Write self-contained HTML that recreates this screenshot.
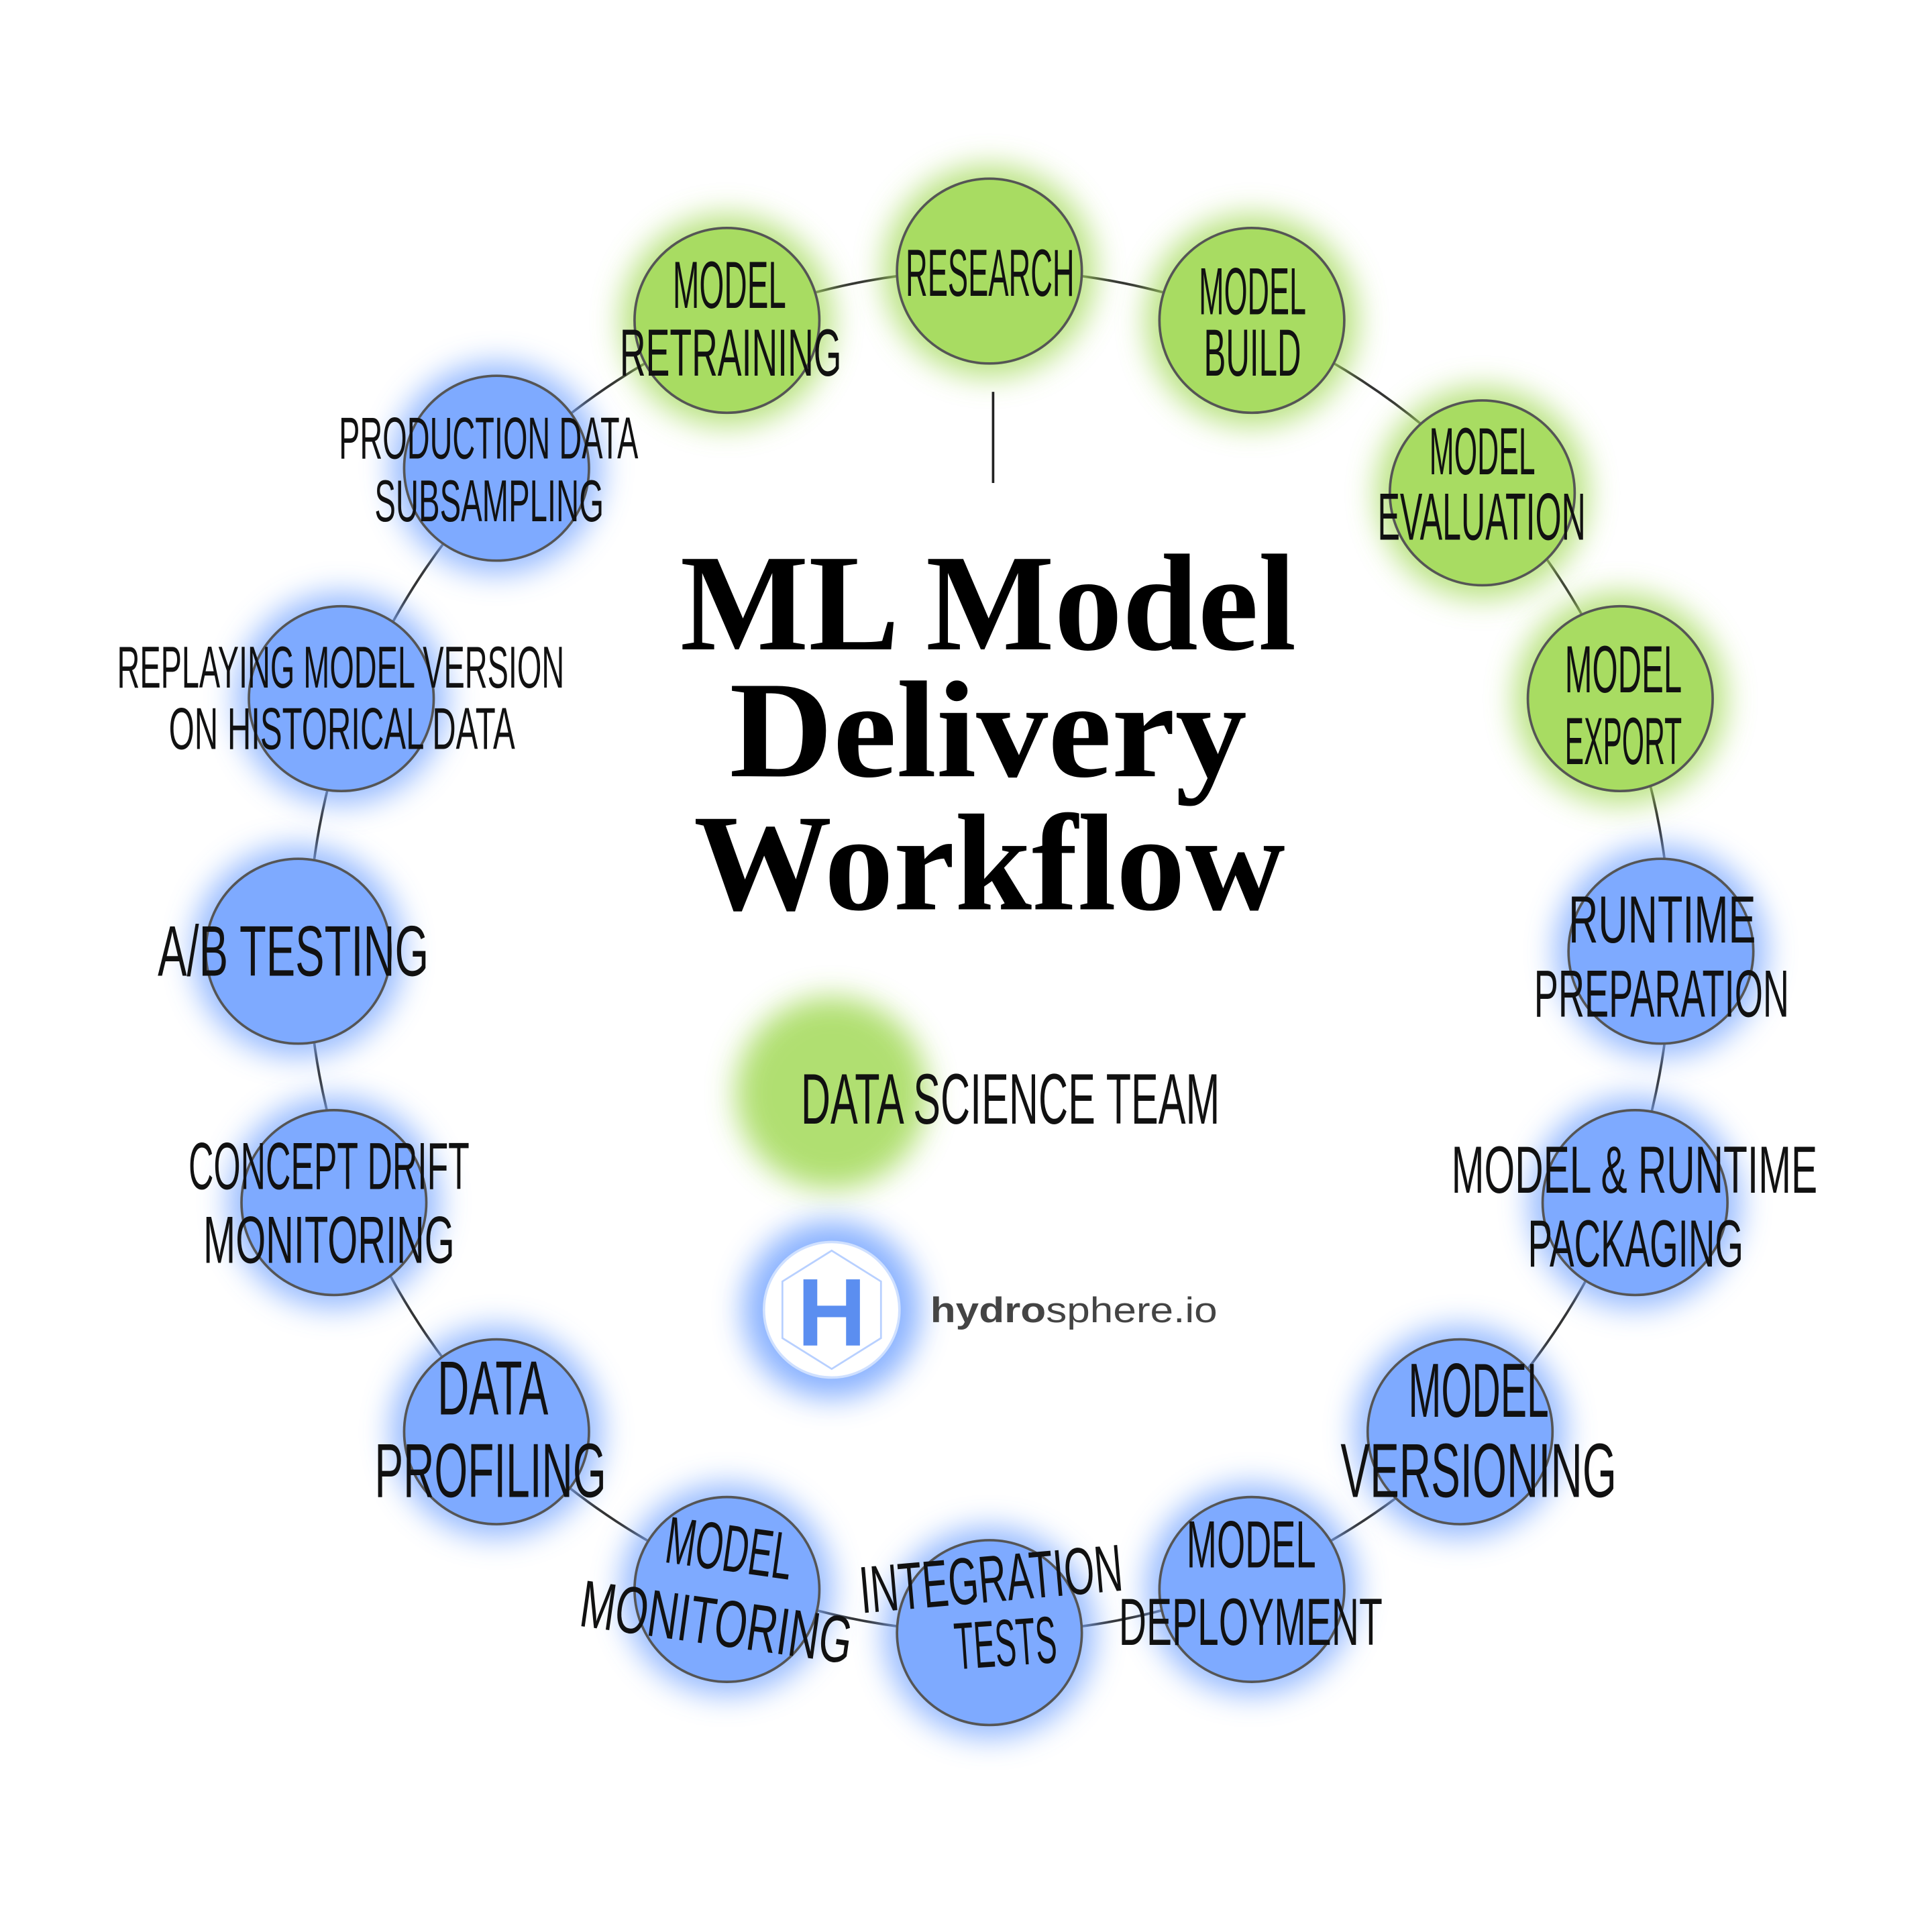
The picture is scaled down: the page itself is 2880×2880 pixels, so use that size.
<!DOCTYPE html>
<html><head><meta charset="utf-8"><style>html,body{margin:0;padding:0;background:#fff}svg{display:block}</style></head>
<body>
<svg width="2880" height="2880" viewBox="0 0 1568 1568" xmlns="http://www.w3.org/2000/svg">
<defs>
<filter id="glow" x="-50%" y="-50%" width="200%" height="200%"><feGaussianBlur stdDeviation="12"/></filter>
</defs>
<rect width="1568" height="1568" fill="#fff"/>
<circle cx="803" cy="772" r="553" fill="none" stroke="#333" stroke-width="2"/>
<g id="nodes" stroke="#555" stroke-width="2">
<g fill="#a8dc62">
<circle cx="803" cy="220" r="86" stroke="none" filter="url(#glow)" opacity="0.8"/>
<circle cx="1016" cy="260" r="86" stroke="none" filter="url(#glow)" opacity="0.8"/>
<circle cx="1203" cy="400" r="86" stroke="none" filter="url(#glow)" opacity="0.8"/>
<circle cx="1315" cy="567" r="86" stroke="none" filter="url(#glow)" opacity="0.8"/>
<circle cx="590" cy="260" r="86" stroke="none" filter="url(#glow)" opacity="0.8"/>
<circle cx="675" cy="887" r="78" stroke="none" filter="url(#glow)" opacity="0.9"/>
<circle cx="803" cy="220" r="75"/>
<circle cx="1016" cy="260" r="75"/>
<circle cx="1203" cy="400" r="75"/>
<circle cx="1315" cy="567" r="75"/>
<circle cx="590" cy="260" r="75"/>
</g>
<g fill="#7eaaff">
<circle cx="1348" cy="772" r="86" stroke="none" filter="url(#glow)" opacity="0.8"/>
<circle cx="1327" cy="976" r="86" stroke="none" filter="url(#glow)" opacity="0.8"/>
<circle cx="1185" cy="1162" r="86" stroke="none" filter="url(#glow)" opacity="0.8"/>
<circle cx="1016" cy="1290" r="86" stroke="none" filter="url(#glow)" opacity="0.8"/>
<circle cx="803" cy="1325" r="86" stroke="none" filter="url(#glow)" opacity="0.8"/>
<circle cx="590" cy="1290" r="86" stroke="none" filter="url(#glow)" opacity="0.8"/>
<circle cx="403" cy="1162" r="86" stroke="none" filter="url(#glow)" opacity="0.8"/>
<circle cx="271" cy="976" r="86" stroke="none" filter="url(#glow)" opacity="0.8"/>
<circle cx="242" cy="772" r="86" stroke="none" filter="url(#glow)" opacity="0.8"/>
<circle cx="277" cy="567" r="86" stroke="none" filter="url(#glow)" opacity="0.8"/>
<circle cx="403" cy="380" r="86" stroke="none" filter="url(#glow)" opacity="0.8"/>
<circle cx="675" cy="1063" r="72" stroke="none" filter="url(#glow)" opacity="0.9"/>
<circle cx="1348" cy="772" r="75"/>
<circle cx="1327" cy="976" r="75"/>
<circle cx="1185" cy="1162" r="75"/>
<circle cx="1016" cy="1290" r="75"/>
<circle cx="803" cy="1325" r="75"/>
<circle cx="590" cy="1290" r="75"/>
<circle cx="403" cy="1162" r="75"/>
<circle cx="271" cy="976" r="75"/>
<circle cx="242" cy="772" r="75"/>
<circle cx="277" cy="567" r="75"/>
<circle cx="403" cy="380" r="75"/>
</g>
</g>
<circle cx="675" cy="1063" r="55" fill="#fff" stroke="#cfe0ff" stroke-width="2"/>
<polygon points="675,1015 715,1040 715,1086 675,1111 635,1086 635,1040" fill="none" stroke="#b8d0ff" stroke-width="1.5"/>
<text x="675" y="1092" font-family="Liberation Sans" font-weight="bold" font-size="78" fill="#5b8ef0" text-anchor="middle">H</text>
<text x="755" y="1073" font-family="Liberation Sans" font-size="29" fill="#444" textLength="233" lengthAdjust="spacingAndGlyphs"><tspan font-weight="bold">hydro</tspan>sphere.io</text>
<line x1="806" y1="318" x2="806" y2="392" stroke="#222" stroke-width="2"/>
<g font-family="Liberation Serif" font-weight="bold" font-size="112" fill="#000">
<text x="552" y="527" textLength="500" lengthAdjust="spacingAndGlyphs">ML Model</text>
<text x="592" y="630" textLength="420" lengthAdjust="spacingAndGlyphs">Delivery</text>
<text x="563" y="738" textLength="480" lengthAdjust="spacingAndGlyphs">Workflow</text>
</g>
<g font-family="Liberation Sans Narrow, Liberation Sans, sans-serif" font-size="54" fill="#111">
<text x="735" y="240" textLength="137" lengthAdjust="spacingAndGlyphs">RESEARCH</text>
<text x="546" y="250" textLength="92" lengthAdjust="spacingAndGlyphs">MODEL</text>
<text x="503" y="305" textLength="180" lengthAdjust="spacingAndGlyphs">RETRAINING</text>
<text x="973" y="255" textLength="87" lengthAdjust="spacingAndGlyphs">MODEL</text>
<text x="977" y="305" textLength="79" lengthAdjust="spacingAndGlyphs">BUILD</text>
<text x="1160" y="385" textLength="86" lengthAdjust="spacingAndGlyphs">MODEL</text>
<text x="1118" y="438" textLength="169" lengthAdjust="spacingAndGlyphs">EVALUATION</text>
<text x="1270" y="562" textLength="95" lengthAdjust="spacingAndGlyphs">MODEL</text>
<text x="1270" y="620" textLength="95" lengthAdjust="spacingAndGlyphs">EXPORT</text>
<text x="1273" y="765" textLength="152" lengthAdjust="spacingAndGlyphs">RUNTIME</text>
<text x="1245" y="825" textLength="207" lengthAdjust="spacingAndGlyphs">PREPARATION</text>
<text x="1178" y="968" textLength="297" lengthAdjust="spacingAndGlyphs">MODEL &amp; RUNTIME</text>
<text x="1240" y="1028" textLength="175" lengthAdjust="spacingAndGlyphs">PACKAGING</text>
<text x="1143" y="1150" textLength="114" lengthAdjust="spacingAndGlyphs" font-size="62">MODEL</text>
<text x="1088" y="1215" textLength="224" lengthAdjust="spacingAndGlyphs" font-size="62">VERSIONING</text>
<text x="963" y="1272" textLength="105" lengthAdjust="spacingAndGlyphs">MODEL</text>
<text x="908" y="1335" textLength="214" lengthAdjust="spacingAndGlyphs">DEPLOYMENT</text>
<text x="698" y="1300" textLength="214" lengthAdjust="spacingAndGlyphs" transform="rotate(-5 805 1290)">INTEGRATION</text>
<text x="775" y="1352" textLength="83" lengthAdjust="spacingAndGlyphs" transform="rotate(-4 816 1340)">TESTS</text>
<text x="540" y="1275" textLength="103" lengthAdjust="spacingAndGlyphs" transform="rotate(8 591 1260)">MODEL</text>
<text x="470" y="1335" textLength="222" lengthAdjust="spacingAndGlyphs" transform="rotate(8 581 1320)">MONITORING</text>
<text x="355" y="1148" textLength="90" lengthAdjust="spacingAndGlyphs" font-size="62">DATA</text>
<text x="304" y="1215" textLength="188" lengthAdjust="spacingAndGlyphs" font-size="62">PROFILING</text>
<text x="153" y="965" textLength="228" lengthAdjust="spacingAndGlyphs">CONCEPT DRIFT</text>
<text x="165" y="1025" textLength="204" lengthAdjust="spacingAndGlyphs">MONITORING</text>
<text x="128" y="792" textLength="220" lengthAdjust="spacingAndGlyphs" font-size="58">A/B TESTING</text>
<text x="95" y="558" textLength="363" lengthAdjust="spacingAndGlyphs" font-size="48">REPLAYING MODEL VERSION</text>
<text x="137" y="608" textLength="281" lengthAdjust="spacingAndGlyphs" font-size="48">ON HISTORICAL DATA</text>
<text x="275" y="372" textLength="243" lengthAdjust="spacingAndGlyphs" font-size="48">PRODUCTION DATA</text>
<text x="304" y="423" textLength="186" lengthAdjust="spacingAndGlyphs" font-size="48">SUBSAMPLING</text>
<text x="650" y="912" textLength="340" lengthAdjust="spacingAndGlyphs" font-size="58">DATA SCIENCE TEAM</text>
</g>
</svg>
</body></html>
